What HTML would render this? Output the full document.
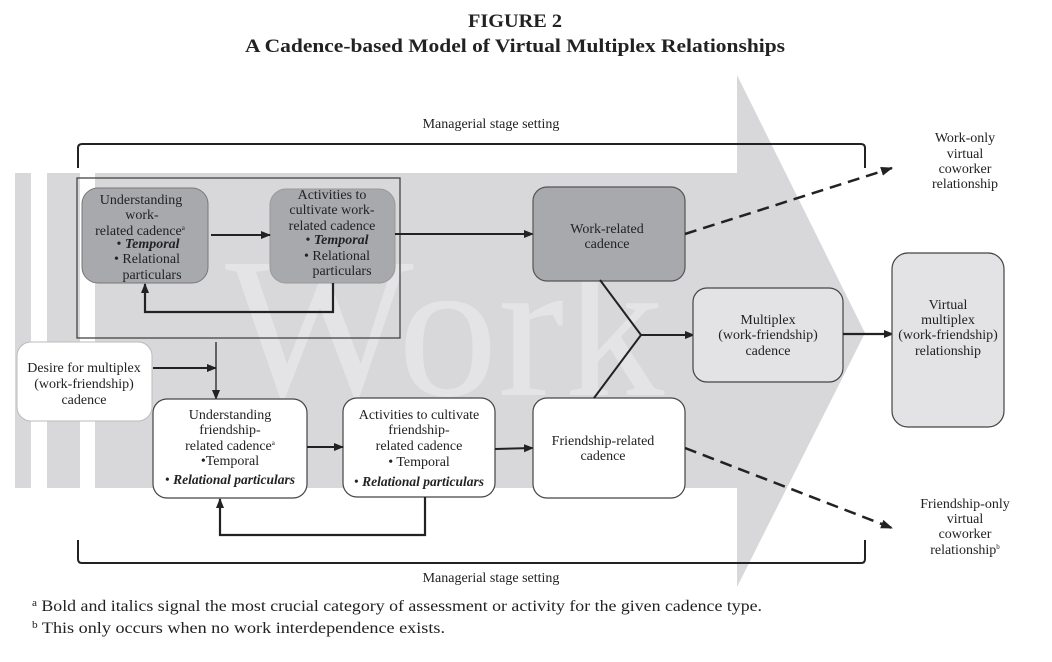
<!DOCTYPE html>
<html><head><meta charset="utf-8"><style>
html,body{margin:0;padding:0;background:#fff;}
svg{display:block;}
text{font-family:"Liberation Serif",serif;fill:#222;}
</style></head><body>
<svg width="1052" height="662" viewBox="0 0 1052 662" xmlns="http://www.w3.org/2000/svg">
<defs>
<marker id="ah" markerWidth="10" markerHeight="9" refX="9" refY="4.5" orient="auto" markerUnits="userSpaceOnUse">
<path d="M0,0.5 L10,4.5 L0,8.5 Z" fill="#222"/></marker>
<marker id="ah2" markerWidth="12" markerHeight="10" refX="11" refY="5" orient="auto" markerUnits="userSpaceOnUse">
<path d="M0,0.5 L12,5 L0,9.5 Z" fill="#222"/></marker>
</defs>
<text x="515" y="27" text-anchor="middle" font-size="19" font-weight="bold" textLength="94" lengthAdjust="spacingAndGlyphs">FIGURE 2</text>
<text x="515" y="52" text-anchor="middle" font-size="19" font-weight="bold" textLength="540" lengthAdjust="spacingAndGlyphs">A Cadence-based Model of Virtual Multiplex Relationships</text>
<path d="M95,173 L737,173 L737,75 L865,333 L737,587 L737,488 L95,488 Z" fill="#d8d8da"/>
<rect x="15" y="173" width="16" height="315" fill="#d8d8da"/>
<rect x="47" y="173" width="33" height="315" fill="#d8d8da"/>
<text x="225" y="395" font-size="200" style="fill:#e4e4e6">Work</text>
<path d="M78,168 L78,148 Q78,144 82,144 L861,144 Q865,144 865,148 L865,168" fill="none" stroke="#222" stroke-width="2"/>
<path d="M78,540 L78,559 Q78,563 82,563 L861,563 Q865,563 865,559 L865,540" fill="none" stroke="#222" stroke-width="2"/>
<text x="491" y="128" text-anchor="middle" font-size="14">Managerial stage setting</text>
<text x="491" y="582" text-anchor="middle" font-size="14">Managerial stage setting</text>
<rect x="77" y="178" width="323" height="160" fill="none" stroke="#444" stroke-width="1.3"/>
<rect x="82" y="188" width="126" height="95" rx="16" fill="#a7a9ac" stroke="#777" stroke-width="1"/>
<g font-size="14" text-anchor="middle">
<text x="141" y="204">Understanding</text>
<text x="142" y="219">work-</text>
<text x="140" y="235">related cadence<tspan font-size="7" dy="-5">a</tspan></text>
<text x="148" y="248" dy="0">• <tspan font-weight="bold" font-style="italic">Temporal</tspan></text>
<text x="147" y="263">• Relational</text>
<text x="152" y="279">particulars</text>
<rect x="270" y="189" width="125" height="94" rx="16" fill="#a7a9ac" stroke="#999" stroke-width="1"/>
<text x="332" y="199">Activities to</text>
<text x="332" y="214">cultivate work-</text>
<text x="332" y="230">related cadence</text>
<text x="337" y="244">• <tspan font-weight="bold" font-style="italic">Temporal</tspan></text>
<text x="337" y="260">• Relational</text>
<text x="342" y="275">particulars</text>
</g>
<line x1="211" y1="235" x2="270" y2="235" stroke="#222" stroke-width="2" marker-end="url(#ah)"/>
<path d="M333,283 L333,312 L145,312 L145,284" fill="none" stroke="#222" stroke-width="2.2" marker-end="url(#ah)"/>
<line x1="395" y1="234" x2="533" y2="234" stroke="#222" stroke-width="2" marker-end="url(#ah)"/>
<rect x="533" y="187" width="152" height="94" rx="14" fill="#a7a9ac" stroke="#555" stroke-width="1.2"/>
<g font-size="14" text-anchor="middle">
<text x="607" y="233">Work-related</text>
<text x="607" y="248">cadence</text>
</g>
<rect x="17" y="342" width="135" height="79" rx="14" fill="#fff" stroke="#bbb" stroke-width="1"/>
<g font-size="14" text-anchor="middle">
<text x="84" y="372">Desire for multiplex</text>
<text x="84" y="388">(work-friendship)</text>
<text x="84" y="404">cadence</text>
</g>
<line x1="153" y1="368" x2="216" y2="368" stroke="#222" stroke-width="2" marker-end="url(#ah)"/>
<line x1="216" y1="342" x2="216" y2="399" stroke="#222" stroke-width="1.3" marker-end="url(#ah)"/>
<rect x="153" y="399" width="154" height="99" rx="14" fill="#fff" stroke="#444" stroke-width="1.2"/>
<g font-size="14" text-anchor="middle">
<text x="230" y="419">Understanding</text>
<text x="230" y="434">friendship-</text>
<text x="230" y="450">related cadence<tspan font-size="7" dy="-5">a</tspan></text>
<text x="230" y="465">•Temporal</text>
<text x="230" y="484" font-size="13.5">• <tspan font-weight="bold" font-style="italic">Relational particulars</tspan></text>
<rect x="343" y="398" width="152" height="99" rx="14" fill="#fff" stroke="#444" stroke-width="1.2"/>
<text x="419" y="419">Activities to cultivate</text>
<text x="419" y="434">friendship-</text>
<text x="419" y="450">related cadence</text>
<text x="419" y="466">• Temporal</text>
<text x="419" y="486" font-size="13.5">• <tspan font-weight="bold" font-style="italic">Relational particulars</tspan></text>
</g>
<line x1="307" y1="447" x2="343" y2="447" stroke="#222" stroke-width="2" marker-end="url(#ah)"/>
<line x1="495" y1="449" x2="533" y2="448" stroke="#222" stroke-width="2" marker-end="url(#ah)"/>
<path d="M425,497 L425,535 L220,535 L220,499" fill="none" stroke="#222" stroke-width="2.2" marker-end="url(#ah)"/>
<rect x="533" y="398" width="152" height="100" rx="14" fill="#fff" stroke="#444" stroke-width="1.2"/>
<g font-size="14" text-anchor="middle">
<text x="603" y="445">Friendship-related</text>
<text x="603" y="460">cadence</text>
</g>
<path d="M600,280 L641,335 L594,398" fill="none" stroke="#222" stroke-width="2"/>
<line x1="641" y1="335" x2="694" y2="335" stroke="#222" stroke-width="2" marker-end="url(#ah)"/>
<rect x="693" y="288" width="150" height="94" rx="14" fill="#e3e3e5" stroke="#444" stroke-width="1.2"/>
<g font-size="14" text-anchor="middle">
<text x="768" y="324">Multiplex</text>
<text x="768" y="339">(work-friendship)</text>
<text x="768" y="355">cadence</text>
</g>
<line x1="843" y1="334" x2="893" y2="334" stroke="#222" stroke-width="2.2" marker-end="url(#ah)"/>
<rect x="892" y="253" width="112" height="174" rx="16" fill="#e3e3e5" stroke="#444" stroke-width="1.2"/>
<g font-size="14" text-anchor="middle">
<text x="948" y="309">Virtual</text>
<text x="948" y="324">multiplex</text>
<text x="948" y="339">(work-friendship)</text>
<text x="948" y="355">relationship</text>
</g>
<line x1="685" y1="234" x2="892" y2="168" stroke="#222" stroke-width="2.5" stroke-dasharray="12,7" marker-end="url(#ah2)"/>
<line x1="685" y1="448" x2="892" y2="528" stroke="#222" stroke-width="2.5" stroke-dasharray="12,7" marker-end="url(#ah2)"/>
<g font-size="14" text-anchor="middle">
<text x="965" y="142">Work-only</text>
<text x="965" y="158">virtual</text>
<text x="965" y="173">coworker</text>
<text x="965" y="188">relationship</text>
<text x="965" y="508">Friendship-only</text>
<text x="965" y="523">virtual</text>
<text x="965" y="538">coworker</text>
<text x="965" y="554">relationship<tspan font-size="7" dy="-5">b</tspan></text>
</g>
<text x="32" y="611" font-size="16" textLength="730" lengthAdjust="spacingAndGlyphs"><tspan font-size="10" dy="-5">a</tspan><tspan dy="5"> Bold and italics signal the most crucial category of assessment or activity for the given cadence type.</tspan></text>
<text x="32" y="633" font-size="16" textLength="413" lengthAdjust="spacingAndGlyphs"><tspan font-size="10" dy="-5">b</tspan><tspan dy="5"> This only occurs when no work interdependence exists.</tspan></text>
</svg>
</body></html>
